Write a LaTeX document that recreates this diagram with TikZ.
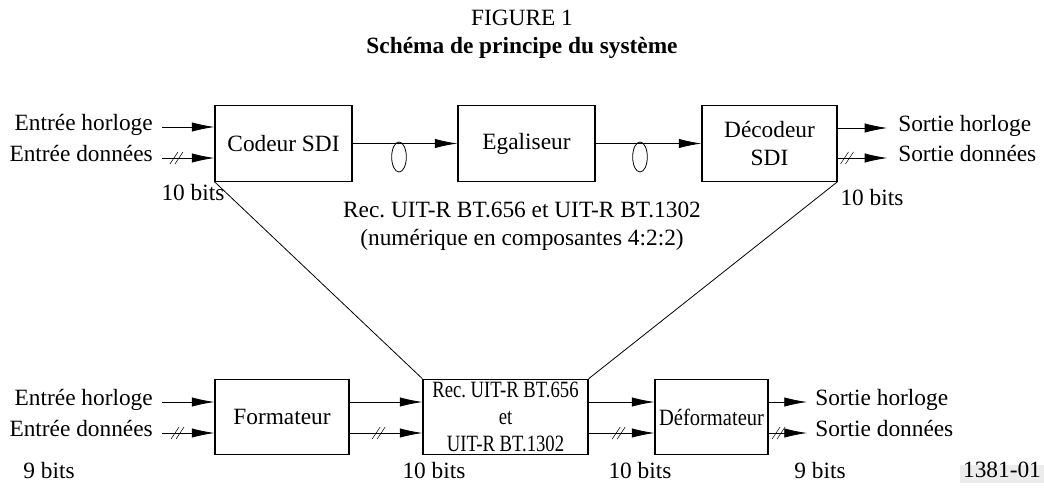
\documentclass[tikz,border=0pt]{standalone}
\usepackage{fontspec}
\setmainfont{Liberation Serif}
\newfontfamily\narrowfont[FakeStretch=0.8]{Liberation Serif}
\newfontfamily\semifont[FakeStretch=0.88]{Liberation Serif}
\usetikzlibrary{arrows.meta,shapes.geometric}
\usepackage{xcolor}
\frenchspacing

\begin{document}
\begin{tikzpicture}[x=0.75pt,y=-0.75pt,auto]
\tikzstyle{every node} = [font=\fontsize{17.5}{21}\selectfont]
\tikzstyle{block} = [rectangle, draw, thick, text centered, minimum height=56.5pt,
inner sep=1pt]
\tikzstyle{lbl} = [inner sep=0pt, text height=0.68em, text depth=0.22em]
\tikzstyle{line} = [draw, semithick, -{Latex[length=17pt,width=7pt]}]
\tikzstyle{fibre} = [draw, semithick, ellipse, minimum width=11pt, minimum height=22.5pt, inner sep=0pt]
\tikzset{dslash/.pic={\draw[-, thin] (-8,6) -- (0,-6) (-3,6) -- (5,-6);}}
\useasboundingbox (0,0) rectangle (1044,488);

% titles
\node (fig) at (522,18) {FIGURE 1};
\node[font=\fontsize{17.5}{21}\selectfont\bfseries] (title) at (522,48) {Schéma de principe du système};

% row 1
\node [block, minimum width=102.75pt] (cod) at (283.5,143.5) {Codeur SDI};
\node [block, minimum width=102.75pt] (ega) at (526.5,143.5) {Egaliseur};
\node [block, minimum width=101.25pt, align=center] (dec) at (769.5,143.5) {Décodeur\\SDI};
\node [lbl, anchor=east] (inclkA) at (153,127) {Entrée horloge};
\node [lbl, anchor=east] (indatA) at (153,158) {Entrée données};
\node [lbl, anchor=west] (outclkA) at (898,128) {Sortie horloge};
\node [lbl, anchor=west] (outdatA) at (898,158) {Sortie données};
\node [fibre] (fibA) at (399,157) {};
\node [fibre] (fibB) at (640,157) {};
\node [lbl] (bitsA) at (193,197) {10 bits};
\node [lbl] (bitsB) at (872,202) {10 bits};
\node [align=center, font=\fontsize{17.5}{21}\selectfont] (rec) at (522,226)
{Rec. UIT-R BT.656 et UIT-R BT.1302\\(numérique en composantes 4:2:2)};

% row 2
\node [block, minimum width=100.5pt] (fmt) at (282,417) {Formateur};
\node [block, minimum width=123.75pt, align=center,
font=\fontsize{17.5}{20.5}\selectfont\narrowfont] (std) at (505.5,417)
{Rec. UIT-R BT.656\\et\\UIT-R BT.1302};
\node [block, minimum width=84.75pt, font=\fontsize{17.5}{21}\selectfont\semifont] (dfm) at (711.5,417) {Déformateur};
\node [lbl, anchor=east] (inclkB) at (153,402) {Entrée horloge};
\node [lbl, anchor=east] (indatB) at (153,433) {Entrée données};
\node [lbl, anchor=west] (outclkB) at (815,402) {Sortie horloge};
\node [lbl, anchor=west] (outdatB) at (815,433) {Sortie données};
\node [lbl] (bitsC) at (49,475) {9 bits};
\node [lbl] (bitsD) at (434,475) {10 bits};
\node [lbl] (bitsE) at (640,475) {10 bits};
\node [lbl] (bitsF) at (820,475) {9 bits};
\node [lbl, fill=gray!15, inner xsep=2pt, inner ysep=2pt] (ref) at (1002,474) {1381-01};

\tikzstyle{every path}=[line]
\path ([xshift=7pt]inclkA.east) -- (inclkA -| cod.west);
\path ([xshift=7pt]indatA.east) -- pic[pos=.3]{dslash} (indatA -| cod.west);
\path (cod) -- (ega);
\path (ega) -- (dec);
\path (outclkA -| dec.east) -- ([xshift=-8pt]outclkA.west);
\path (outdatA -| dec.east) -- pic[pos=.22]{dslash} ([xshift=-8pt]outdatA.west);
\path ([xshift=7pt]inclkB.east) -- (inclkB -| fmt.west);
\path ([xshift=7pt]indatB.east) -- pic[pos=.32]{dslash} (indatB -| fmt.west);
\path (inclkB -| fmt.east) -- (inclkB -| std.west);
\path (indatB -| fmt.east) -- pic[pos=.42]{dslash} (indatB -| std.west);
\path (inclkB -| std.east) -- (inclkB -| dfm.west);
\path (indatB -| std.east) -- pic[pos=.48]{dslash} (indatB -| dfm.west);
\path (outclkB -| dfm.east) -- ([xshift=-6pt]outclkB.west);
\path (outdatB -| dfm.east) -- pic[pos=.3]{dslash} ([xshift=-6pt]outdatB.west);
\path[-] (cod.south west) -- (std.north west);
\path[-] (dec.south east) -- (std.north east);
\end{tikzpicture}
\end{document}
